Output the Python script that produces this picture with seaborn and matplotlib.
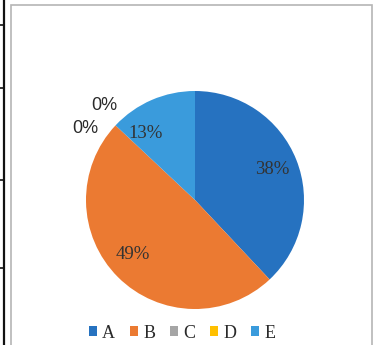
import numpy as np
import matplotlib
matplotlib.use("Agg")
import matplotlib.pyplot as plt
import seaborn as sns
from matplotlib.patches import Patch, Rectangle
from matplotlib.lines import Line2D

# -----------------------------
# DATA
# -----------------------------
categories = ["A", "B", "C", "D", "E"]
shares = [38, 49, 0, 0, 13]
colors = ["#2672C0", "#EB7A32", "#A5A5A5", "#FFC000", "#3A9BDC"]

W, H = 378, 345

sns.set_theme(style="white")
plt.rcParams["font.family"] = ["Liberation Serif", "DejaVu Serif"]

fig = plt.figure(figsize=(W / 100, H / 100), dpi=100)
fig.patch.set_facecolor("white")

# pie area (center ~ (195, 200) px, radius ~109 px)
cx, cy, r = 195, 200, 109
ax = fig.add_axes([(cx - r) / W, (H - cy - r) / H, 2 * r / W, 2 * r / H])

wedges, _ = ax.pie(shares, colors=colors, startangle=90, counterclock=False,
                   radius=1, wedgeprops=dict(linewidth=0))
ax.set_xlim(-1, 1)
ax.set_ylim(-1, 1)
ax.set_aspect("equal")
ax.axis("off")

# percent labels (small angle nudges mimic the "best fit" placement)
inside_nudge = {0: 0, 1: -4, 4: 13}
zero_offsets = iter([10, -3])
for i, (w, val) in enumerate(zip(wedges, shares)):
    mid = np.deg2rad((w.theta1 + w.theta2) / 2)
    if val > 0:
        ang = mid + np.deg2rad(inside_nudge.get(i, 0))
        d = 0.76
        ax.text(d * np.cos(ang), d * np.sin(ang), f"{val}%", ha="center",
                va="center", fontsize=13.5, color="#333333")
    else:
        ang = mid + np.deg2rad(next(zero_offsets))
        d = 1.2
        ax.text(d * np.cos(ang), d * np.sin(ang), f"{val}%", ha="center",
                va="center", fontsize=13, color="#2a2a2a",
                family=["Liberation Sans", "DejaVu Sans"])

# legend
handles = [Patch(facecolor=c, edgecolor="none") for c in colors]
fig.legend(handles, categories, loc="center", bbox_to_anchor=(182 / W, 1 - 333 / H),
           ncol=5, frameon=False, fontsize=13, handlelength=0.45, handleheight=0.45,
           handletextpad=0.3, columnspacing=0.8, labelcolor="#2a2a2a")

# chart frame and left table border
fig.add_artist(Rectangle((11 / W, -0.05), (372 - 11) / W, 1 - 5 / H + 0.05,
                         transform=fig.transFigure, fill=False,
                         edgecolor="#b5b5b5", lw=1.2))
fig.add_artist(Line2D([4 / W, 4 / W], [0, 1], transform=fig.transFigure,
                      color="#111111", lw=1.6))
for yy in [25, 88, 180, 268]:
    fig.add_artist(Line2D([0, 4 / W], [1 - yy / H, 1 - yy / H],
                          transform=fig.transFigure, color="#111111", lw=1.2))

fig.savefig("out.png", dpi=100)
